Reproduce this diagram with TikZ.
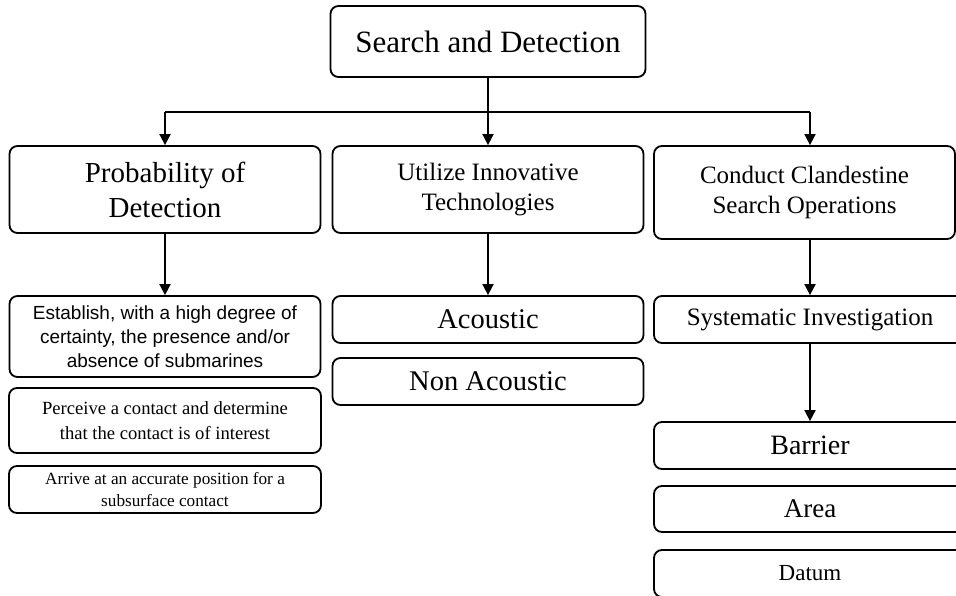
\documentclass[tikz,border=0pt]{standalone}
\usepackage{fontspec}
\setmainfont{Liberation Serif}
\newfontfamily\arialf{Liberation Sans}
\usetikzlibrary{arrows.meta}
\begin{document}
\begin{tikzpicture}[x=1pt,y=-1pt,
  box/.style={draw, line width=1.8pt, rounded corners=8pt, align=center, inner sep=0pt},
  conn/.style={line width=1.8pt},
  arr/.style={conn, -{Triangle[width=11pt,length=11pt]}}]
\useasboundingbox (0,0) rectangle (956,595);
\clip (0,0) rectangle (956,595);
% boxes: centers from pixel extents
\node[box, minimum width=315pt, minimum height=71pt, font=\fontsize{31}{36}\selectfont] (top) at (488,41.5) {Search and Detection};
\node[box, minimum width=311pt, minimum height=87pt, font=\fontsize{29}{35}\selectfont] (prob) at (165,189.5) {Probability of\\Detection};
\node[box, minimum width=311pt, minimum height=87pt, font=\fontsize{25}{30}\selectfont] (util) at (488,189.5) {Utilize Innovative\\Technologies};
\node[box, minimum width=301pt, minimum height=93pt, font=\fontsize{25}{30}\selectfont] (cond) at (804.5,192.5) {Conduct Clandestine\\Search Operations};
\node[box, minimum width=311pt, minimum height=81pt, font=\arialf\fontsize{19}{24}\selectfont] (est) at (165,336.5) {Establish, with a high degree of\\certainty, the presence and/or\\absence of submarines};
\node[box, minimum width=312pt, minimum height=65pt, font=\fontsize{18.6}{25}\selectfont] (perc) at (165,420.5) {Perceive a contact and determine\\that the contact is of interest};
\node[box, minimum width=312pt, minimum height=47pt, font=\fontsize{17.2}{22}\selectfont] (arrv) at (165,489.5) {Arrive at an accurate position for a\\subsurface contact};
\node[box, minimum width=311pt, minimum height=47pt, font=\fontsize{28.5}{30}\selectfont] (acou) at (488,319.5) {Acoustic};
\node[box, minimum width=311pt, minimum height=47pt, font=\fontsize{28.5}{30}\selectfont] (nonac) at (488,381.5) {Non Acoustic};
\node[box, minimum width=312pt, minimum height=47pt, font=\fontsize{25}{28}\selectfont] (sys) at (810,319.5) {Systematic Investigation};
\node[box, minimum width=312pt, minimum height=47pt, font=\fontsize{28}{30}\selectfont] (bar) at (810,445.5) {Barrier};
\node[box, minimum width=312pt, minimum height=46pt, font=\fontsize{27}{30}\selectfont] (area) at (810,509) {Area};
\node[box, minimum width=312pt, minimum height=47pt, font=\fontsize{23}{26}\selectfont] (datum) at (810,573.5) {Datum};
% connectors
\coordinate (hl) at (165,112);
\coordinate (hr) at (810,112);
\draw[arr] (top.south) -- (util.north);
\draw[conn] (hl) -- (hr);
\draw[arr] (hl) -- (prob.north);
\draw[arr] (hr) -- (hr |- cond.north);
\draw[arr] (prob.south) -- (est.north);
\draw[arr] (util.south) -- (acou.north);
\draw[arr] (sys.north |- cond.south) -- (sys.north);
\draw[arr] (sys.south) -- (bar.north);
\end{tikzpicture}
\end{document}
